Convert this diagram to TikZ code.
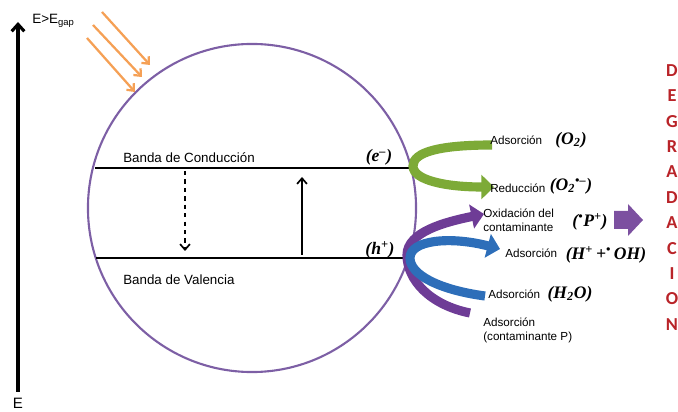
\documentclass[tikz,border=0pt]{standalone}
\usepackage{fontspec}
\setmainfont{Liberation Serif}
\setsansfont{Liberation Sans}
\newfontfamily\calib{Carlito}
\usetikzlibrary{arrows.meta}
\definecolor{circpurple}{RGB}{125,95,165}
\definecolor{rayorange}{RGB}{245,160,85}
\definecolor{bandgreen}{RGB}{125,170,55}
\definecolor{bandpurple}{RGB}{110,60,150}
\definecolor{bandblue}{RGB}{45,110,185}
\definecolor{degred}{RGB}{185,35,40}
\tikzset{
  lbl/.style={font=\sffamily\fontsize{8.3}{10}\selectfont, inner sep=0pt, align=left, anchor=west},
  form/.style={font=\bfseries\itshape\fontsize{12.5}{14}\selectfont, inner sep=0pt},
  bandline/.style={line width=1.5pt},
  ray/.style={rayorange, line width=1.6pt, -{Straight Barb[length=4pt,width=7pt]}},
  bent/.style={line width=6.5pt, -{Triangle[length=9pt,width=17pt]}},
  deg/.style={font=\calib\bfseries\fontsize{13}{15}\selectfont, text=degred, inner sep=0pt}
}

\begin{document}
\begin{tikzpicture}[x=0.025cm, y=-0.025cm]
    \useasboundingbox (0,0) rectangle (678,412);

    % --- ENERGY AXIS ---
    \coordinate (Ebot) at (18,392);
    \coordinate (Etop) at (18,22);
	\draw[line width=2.2pt, -{Straight Barb[length=5pt,width=9pt]}] (Ebot) -- (Etop);
	\node[font=\sffamily\fontsize{10.7}{12}\selectfont, anchor=north, inner sep=0pt] (Elabel) at (18,398) {E};
	\node[font=\sffamily\fontsize{9.6}{11}\selectfont, anchor=west, inner sep=0pt] (Egap) at (32,21) {E>E\textsubscript{gap}};

    % --- LIGHT ---
	\foreach \sx/\sy/\ex/\ey [count=\i] in {102/12/150/65, 93/25/142/77, 87/38/135/92}{
	    \coordinate (ray\i s) at (\sx,\sy);
	    \coordinate (ray\i e) at (\ex,\ey);
	    \draw[ray] (ray\i s) -- (ray\i e);
	}

    % --- PARTICLE AND BANDS ---
	\node[circle, draw=circpurple, line width=1.5pt, minimum size=8.2cm, inner sep=0pt] (particle) at (252,208) {};
	\coordinate (cbL) at (95,168);
	\coordinate (cbR) at (413,168);
	\coordinate (vbL) at (96,258);
	\coordinate (vbR) at (409,258);
	\draw[bandline] (cbL) -- (cbR);
	\draw[bandline] (vbL) -- (vbR);
	\node[font=\sffamily\fontsize{9.5}{11}\selectfont, anchor=west, inner sep=0pt] (cbname) at (123,158) {Banda de Conducción};
	\node[font=\sffamily\fontsize{9.5}{11}\selectfont, anchor=west, inner sep=0pt] (vbname) at (123,280) {Banda de Valencia};
	\node[form] (elec) at (379,157) {(e\textsuperscript{–})};
	\node[form] (hole) at (380,250) {(h\textsuperscript{+})};
	\coordinate (dnA) at (185,171);
	\coordinate (dnB) at (185,251);
	\coordinate (upA) at (302,255);
	\coordinate (upB) at (302,177);
	\draw[dashed, line width=1.2pt, -{Straight Barb[length=4pt,width=7pt]}] (dnA) -- (dnB);
	\draw[line width=1.2pt, -{Straight Barb[length=4pt,width=7pt]}] (upA) -- (upB);

    % --- REACTIONS ---
	\draw[bandgreen, bent] (492,145) .. controls (440,145) and (413,152) .. (413,166)
	    .. controls (413,180) and (445,187) .. (494,187);
	\draw[bandpurple, bent] (470,313) .. controls (430,305) and (407,280) .. (407,255)
	    .. controls (407,232) and (445,222) .. (484,214);
	\draw[bandblue, bent] (485,296) .. controls (440,290) and (410,275) .. (410,258)
	    .. controls (410,240) and (450,236) .. (500,249);

	\node[lbl] (adsO) at (490,140) {Adsorción};
	\node[form] (fO2) at (571,140) {(O\textsubscript{2})};
	\node[lbl] (red) at (490,188) {Reducción};
	\node[form] (fO2r) at (571,186) {(O\textsubscript{2}\textsuperscript{•–})};
	\node[lbl] (oxi) at (483,220) {Oxidación del\\contaminante};
	\node[form] (fP) at (590,222) {(\textsuperscript{•}P\textsuperscript{+})};
	\node[lbl] (adsH) at (505,253) {Adsorción};
	\node[form] (fOH) at (606,255) {(H\textsuperscript{+}\,+\textsuperscript{•}\,OH)};
	\node[lbl] (adsW) at (488,294) {Adsorción};
	\node[form] (fH2O) at (570,294) {(H\textsubscript{2}O)};
	\node[lbl] (adsP) at (483,330) {Adsorción\\(contaminante P)};

    % --- DEGRADACION ---
	\fill[bandpurple!90] (614,211) -- (628,211) -- (628,204) -- (643,220) -- (628,236) -- (628,229) -- (614,229) -- cycle;
	\foreach \l [count=\i] in {D,E,G,R,A,D,A,C,I,O,N}
	    \node[deg] (deg\i) at (672,45+25.4*\i) {\l};
\end{tikzpicture}
\end{document}
